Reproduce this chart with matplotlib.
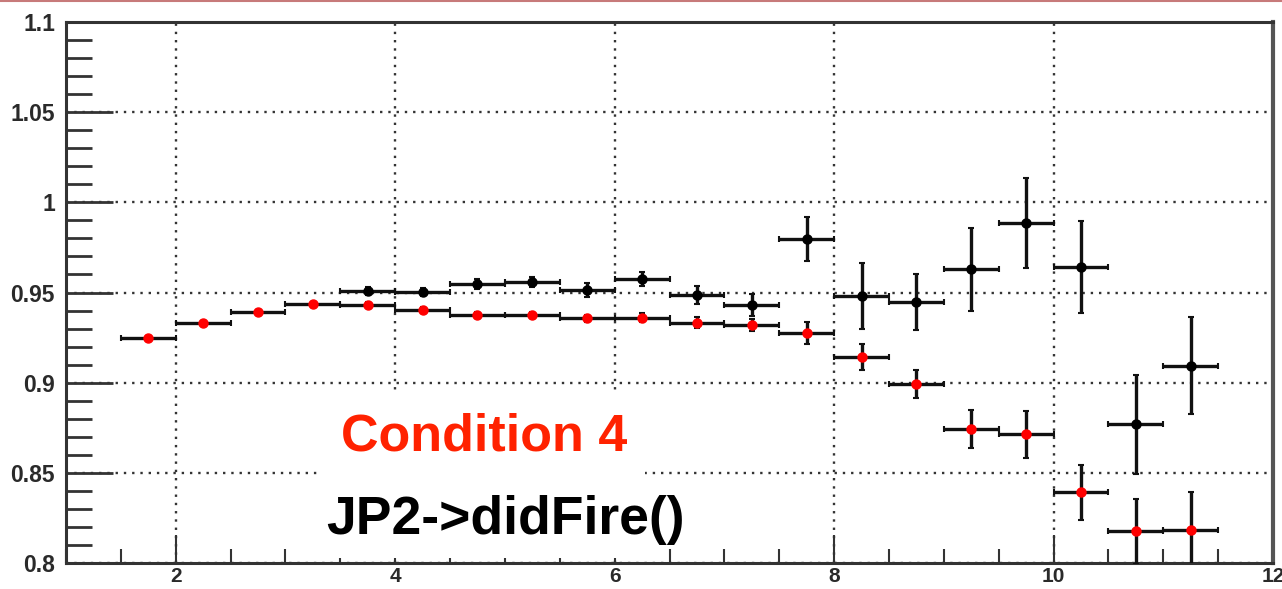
import matplotlib
matplotlib.use("Agg")
import matplotlib.pyplot as plt
from matplotlib.lines import Line2D
from matplotlib.patches import Rectangle
from matplotlib.ticker import MultipleLocator
from matplotlib.font_manager import FontProperties

# ---- data ----
x_black = [3.75, 4.25, 4.75, 5.25, 5.75, 6.25, 6.75, 7.25, 7.75, 8.25, 8.75,
           9.25, 9.75, 10.25, 10.75, 11.25]
y_black = [0.9508, 0.9503, 0.9547, 0.9558, 0.9514, 0.9575, 0.9486, 0.9430,
           0.9796, 0.9480, 0.9445, 0.9628, 0.9887, 0.9643, 0.8770, 0.9094]
yerr_black = [0.002, 0.002, 0.003, 0.003, 0.004, 0.004, 0.005, 0.006,
              0.012, 0.0185, 0.0155, 0.023, 0.025, 0.0255, 0.0275, 0.027]

x_red = [1.75, 2.25, 2.75, 3.25, 3.75, 4.25, 4.75, 5.25, 5.75, 6.25, 6.75,
         7.25, 7.75, 8.25, 8.75, 9.25, 9.75, 10.25, 10.75, 11.25]
y_red = [0.9247, 0.9332, 0.9392, 0.9434, 0.9432, 0.9403, 0.9376, 0.9377,
         0.9356, 0.9360, 0.9333, 0.9320, 0.9275, 0.9142, 0.8993, 0.8743,
         0.8714, 0.8393, 0.8175, 0.8184]
yerr_red = [0.001, 0.001, 0.0012, 0.0012, 0.0013, 0.0015, 0.0015, 0.0017,
            0.002, 0.0025, 0.003, 0.0035, 0.006, 0.007, 0.0078, 0.0103,
            0.013, 0.0153, 0.018, 0.021]
bin_half = 0.25

y_ticks = [0.8, 0.85, 0.9, 0.95, 1.0, 1.05, 1.1]
y_labels = ['0.8', '0.85', '0.9', '0.95', '1', '1.05', '1.1']
x_ticks = [2, 4, 6, 8, 10, 12]
x_labels = ['2', '4', '6', '8', '10', '12']

title_red = "Condition 4"
title_black = "JP2->didFire()"

# ---- figure ----
W, H = 1282, 589
fig = plt.figure(figsize=(W / 100, H / 100), dpi=100)
ax = fig.add_axes([66 / W, 1 - 563 / H, (1273 - 66) / W, (563 - 22) / H])
ax.set_xlim(1, 12)
ax.set_ylim(0.8, 1.1)

ax.set_xticks(x_ticks)
ax.set_xticklabels(x_labels)
ax.set_yticks(y_ticks)
ax.set_yticklabels(y_labels)
ax.xaxis.set_minor_locator(MultipleLocator(0.5))
ax.yaxis.set_minor_locator(MultipleLocator(0.01))

fp_y = FontProperties(family='Liberation Sans', weight='bold', size=16.5)
fp_x = FontProperties(family='Liberation Sans', weight='bold', size=15)
for lab in ax.get_yticklabels():
    lab.set_fontproperties(fp_y)
    lab.set_color('#2a2a2a')
for lab in ax.get_xticklabels():
    lab.set_fontproperties(fp_x)
    lab.set_color('#2a2a2a')

ax.tick_params(axis='y', which='major', direction='in', length=34, width=2,
               color='#333333', pad=8)
ax.tick_params(axis='y', which='minor', direction='in', length=19, width=2,
               color='#333333')
ax.tick_params(axis='x', which='major', direction='in', length=20, width=1.5,
               color='#333333', pad=3)
ax.tick_params(axis='x', which='minor', direction='in', length=10, width=1.5,
               color='#333333')
ax.tick_params(top=False, right=False)

for s in ['left', 'bottom', 'top']:
    ax.spines[s].set_linewidth(2.2)
    ax.spines[s].set_color('#333333')
ax.spines['right'].set_linewidth(3)
ax.spines['right'].set_color('#555555')

# grid lines
ax.grid(True, which='major', linestyle=(0, (1, 2.5)), color='#333333',
        linewidth=1.7)
ax.set_axisbelow(True)

# ---- data points ----
xerr_b = [bin_half] * len(x_black)
xerr_r = [bin_half] * len(x_red)
ax.errorbar(x_black, y_black, xerr=xerr_b, yerr=yerr_black, fmt='o',
            color='black', ecolor='#111111', elinewidth=2.4, capsize=2.5,
            capthick=1.5, markersize=6.5, zorder=3)
ax.errorbar(x_red, y_red, xerr=xerr_r, yerr=yerr_red, fmt='o',
            color='black', ecolor='#111111', elinewidth=2.4, capsize=2.5,
            capthick=1.5, markerfacecolor='#ff0000', markeredgecolor='#ff0000',
            markersize=6.5, zorder=4)

# white box behind the labels
fig.patches.append(Rectangle((322 / W, 1 - 558 / H), (645 - 322) / W,
                             (558 - 393) / H, transform=fig.transFigure,
                             facecolor='white', edgecolor='none', zorder=5))

fig.text(484 / W, 1 - 437 / H, title_red, color='#ff2200',
         family='Liberation Sans', weight='bold', size=37.5,
         ha='center', va='center', zorder=6)
fig.text(505 / W, 1 - 520 / H, title_black, color='black',
         family='Liberation Sans', weight='bold', size=38.5,
         ha='center', va='center', zorder=6)

# thin slide border at the top
fig.add_artist(Line2D([0, 1], [1 - 0.8 / H, 1 - 0.8 / H],
                      transform=fig.transFigure, color='#c77a7a',
                      linewidth=1.5))

fig.savefig('out.png', dpi=100)
